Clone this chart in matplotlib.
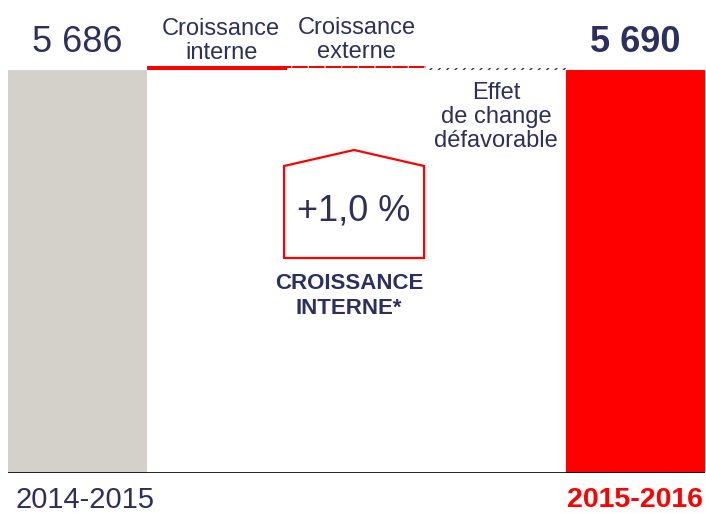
import matplotlib.pyplot as plt
from matplotlib.patches import Polygon

plt.rcParams['font.family'] = ['Liberation Sans', 'DejaVu Sans']

# waterfall data (millions)
steps = ["2014-2015", "Croissance interne", "Croissance externe",
         "Effet de change défavorable", "2015-2016"]
start_value = 5686
deltas = [57, -24, -29]
end_value = 5690
start_label = "5 686"
end_label = "5 690"
growth_label = "+1,0 %"

navy = "#2d2f5f"
grey = "#d4d1cb"
red = "#ff0000"

fig = plt.figure(figsize=(7.06, 5.13), dpi=100)
ax = fig.add_axes([8 / 706, 40 / 513, 697 / 706, 473 / 513])

# end bars
ax.bar(0, start_value, width=1.0, color=grey, linewidth=0)
ax.bar(4, end_value, width=1.0, color=red, linewidth=0)

# floating steps
level = start_value
styles = [
    dict(color=red, linewidth=0),
    dict(facecolor=red, edgecolor="#ffd0d0", hatch="|", linewidth=0),
    dict(facecolor="white", edgecolor=navy, hatch="////", linewidth=0),
]
for i, (d, st) in enumerate(zip(deltas, styles)):
    lo = level + min(d, 0)
    ax.bar(i + 1, abs(d), bottom=lo, width=1.0, **st)
    level += d

ax.axhline(0, color="black", linewidth=1.2)
ax.set_xlim(-0.5, 4.5)
ax.set_ylim(0, end_value * 473 / 403)
ax.axis("off")

# value labels above the totals
ax.text(0, 5690 * 431 / 403, start_label, ha="center", va="center",
        fontsize=26, color=navy)
ax.text(4, 5690 * 431 / 403, end_label, ha="center", va="center",
        fontsize=26, color=navy, fontweight="bold")

# step labels
ax.text(1.03, 5690 * 432 / 403, "Croissance\ninterne", ha="center",
        va="center", fontsize=17, color=navy, linespacing=1.15)
ax.text(2, 5690 * 433 / 403, "Croissance\nexterne", ha="center", va="center",
        fontsize=17, color=navy, linespacing=1.15)
ax.text(3, 5690 * 356 / 403, "Effet\nde change\ndéfavorable", ha="center",
        va="center", fontsize=17, color=navy, linespacing=1.1)

# growth call-out
trans = fig.transFigure
pts = [(284, 258), (284, 166), (354, 150), (424, 166), (424, 258)]
poly = Polygon([(x / 706, 1 - y / 513) for x, y in pts], closed=True,
               fill=False, edgecolor=red, linewidth=1.6, transform=trans)
fig.patches.append(poly)
fig.text(354 / 706, 1 - 211 / 513, growth_label, ha="center", va="center",
         fontsize=26, color=navy)
fig.text(349 / 706, 1 - 296 / 513, "CROISSANCE\nINTERNE*", ha="center",
         va="center", fontsize=16, color=navy, fontweight="bold",
         linespacing=1.25)

# period labels
fig.text(85 / 706, 1 - 500 / 513, steps[0], ha="center", va="center",
         fontsize=21, color=navy)
fig.text(635 / 706, 1 - 500 / 513, steps[4], ha="center", va="center",
         fontsize=20.5, color=red, fontweight="bold")

fig.savefig("out.png", dpi=100)
